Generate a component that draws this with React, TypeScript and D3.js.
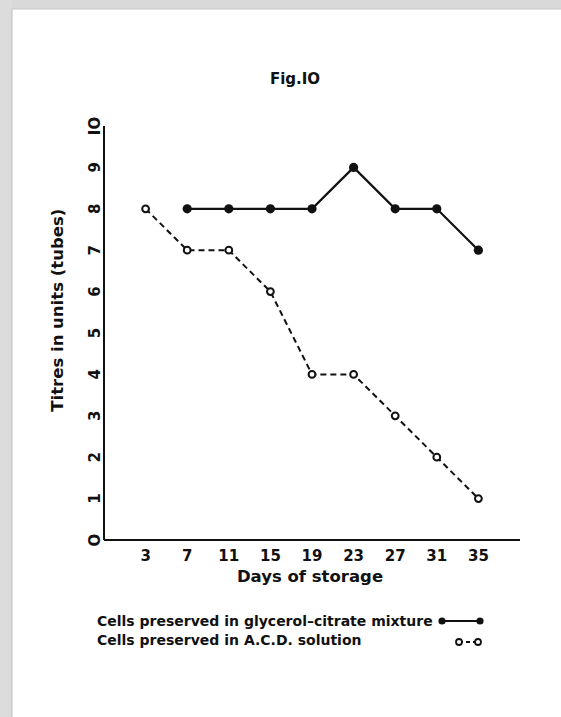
import React from 'react';
import * as d3 from 'd3';

const days = [3, 7, 11, 15, 19, 23, 27, 31, 35];
const glycerolDays = [7, 11, 15, 19, 23, 27, 31, 35];
const glycerolTitres = [8, 8, 8, 8, 9, 8, 8, 7];
const acdDays = [3, 7, 11, 15, 19, 23, 27, 31, 35];
const acdTitres = [8, 7, 7, 6, 4, 4, 3, 2, 1];
const yTicks = [0, 1, 2, 3, 4, 5, 6, 7, 8, 9, 10];
const yTickLabels = ['O', '1', '2', '3', '4', '5', '6', '7', '8', '9', 'IO'];
const legendLabels = [
  'Cells preserved in glycerol\u2013citrate mixture',
  'Cells preserved in A.C.D. solution',
];

const W = 561;
const H = 717;
const font = '"DejaVu Sans", Verdana, sans-serif';
const ink = '#111';

export default function App() {
  const x = d3.scaleLinear().domain([-1, 39]).range([104, 520]);
  const y = d3.scaleLinear().domain([0, 10]).range([540, 126]);

  const line = d3.line<[number, number]>()
    .x(d => x(d[0]))
    .y(d => y(d[1]));

  const glycerol: [number, number][] = glycerolDays.map((d, i) => [d, glycerolTitres[i]]);
  const acd: [number, number][] = acdDays.map((d, i) => [d, acdTitres[i]]);

  return (
    <>
      <style>{'html,body{margin:0;padding:0;overflow:hidden}'}</style>
      <svg width={W} height={H} style={{ display: 'block', background: '#fff' }}>
        {/* scan border */}
        <rect x={0} y={0} width={W} height={9} fill="#d9d9d9" />
        <rect x={0} y={0} width={12} height={H} fill="#dcdcdc" />
        <line x1={12} y1={9} x2={12} y2={H} stroke="#bdbdbd" strokeWidth={1} />
        <line x1={12} y1={9} x2={W} y2={9} stroke="#c8c8c8" strokeWidth={1} />

        <text x={295} y={84} textAnchor="middle" fontFamily={font} fontWeight="bold" fontSize={15} fill={ink}>
          Fig.IO
        </text>

        {/* axes */}
        <line x1={x(-1)} y1={y(10)} x2={x(-1)} y2={y(0)} stroke={ink} strokeWidth={2} />
        <line x1={x(-1)} y1={y(0)} x2={x(39)} y2={y(0)} stroke={ink} strokeWidth={2} />

        {yTicks.map((t, i) => (
          <text key={t} transform={`translate(100,${y(t)}) rotate(-90)`} textAnchor="middle"
            fontFamily={font} fontWeight="bold" fontSize={15} fill={ink}>
            {yTickLabels[i]}
          </text>
        ))}

        {days.map(d => (
          <text key={d} x={x(d)} y={561} textAnchor="middle" fontFamily={font} fontWeight="bold" fontSize={15} fill={ink}>
            {d}
          </text>
        ))}

        <text x={310} y={582} textAnchor="middle" fontFamily={font} fontWeight="bold" fontSize={16.5} fill={ink}>
          Days of storage
        </text>
        <text transform={`translate(63,${y(5.55)}) rotate(-90)`} textAnchor="middle"
          fontFamily={font} fontWeight="bold" fontSize={16.5} fill={ink}>
          Titres in units (tubes)
        </text>

        {/* series */}
        <path d={line(acd) || ''} fill="none" stroke={ink} strokeWidth={2} strokeDasharray="6,4" />
        <path d={line(glycerol) || ''} fill="none" stroke={ink} strokeWidth={2.2} />
        {glycerol.map(p => (
          <circle key={'g' + p[0]} cx={x(p[0])} cy={y(p[1])} r={4.6} fill={ink} />
        ))}
        {acd.map(p => (
          <circle key={'a' + p[0]} cx={x(p[0])} cy={y(p[1])} r={3.4} fill="#fff" stroke={ink} strokeWidth={2} />
        ))}

        {/* legend */}
        <text x={97} y={626} fontFamily={font} fontWeight="bold" fontSize={14} fill={ink}>{legendLabels[0]}</text>
        <text x={97} y={645} fontFamily={font} fontWeight="bold" fontSize={14} fill={ink}>{legendLabels[1]}</text>
        <line x1={442} y1={621} x2={480} y2={621} stroke={ink} strokeWidth={2} />
        <circle cx={442} cy={621} r={3.6} fill={ink} />
        <circle cx={480} cy={621} r={3.6} fill={ink} />
        <line x1={459} y1={642} x2={478} y2={642} stroke={ink} strokeWidth={2} strokeDasharray="4,3" />
        <circle cx={459} cy={642} r={3} fill="#fff" stroke={ink} strokeWidth={1.8} />
        <circle cx={478} cy={642} r={3} fill="#fff" stroke={ink} strokeWidth={1.8} />
      </svg>
    </>
  );
}
